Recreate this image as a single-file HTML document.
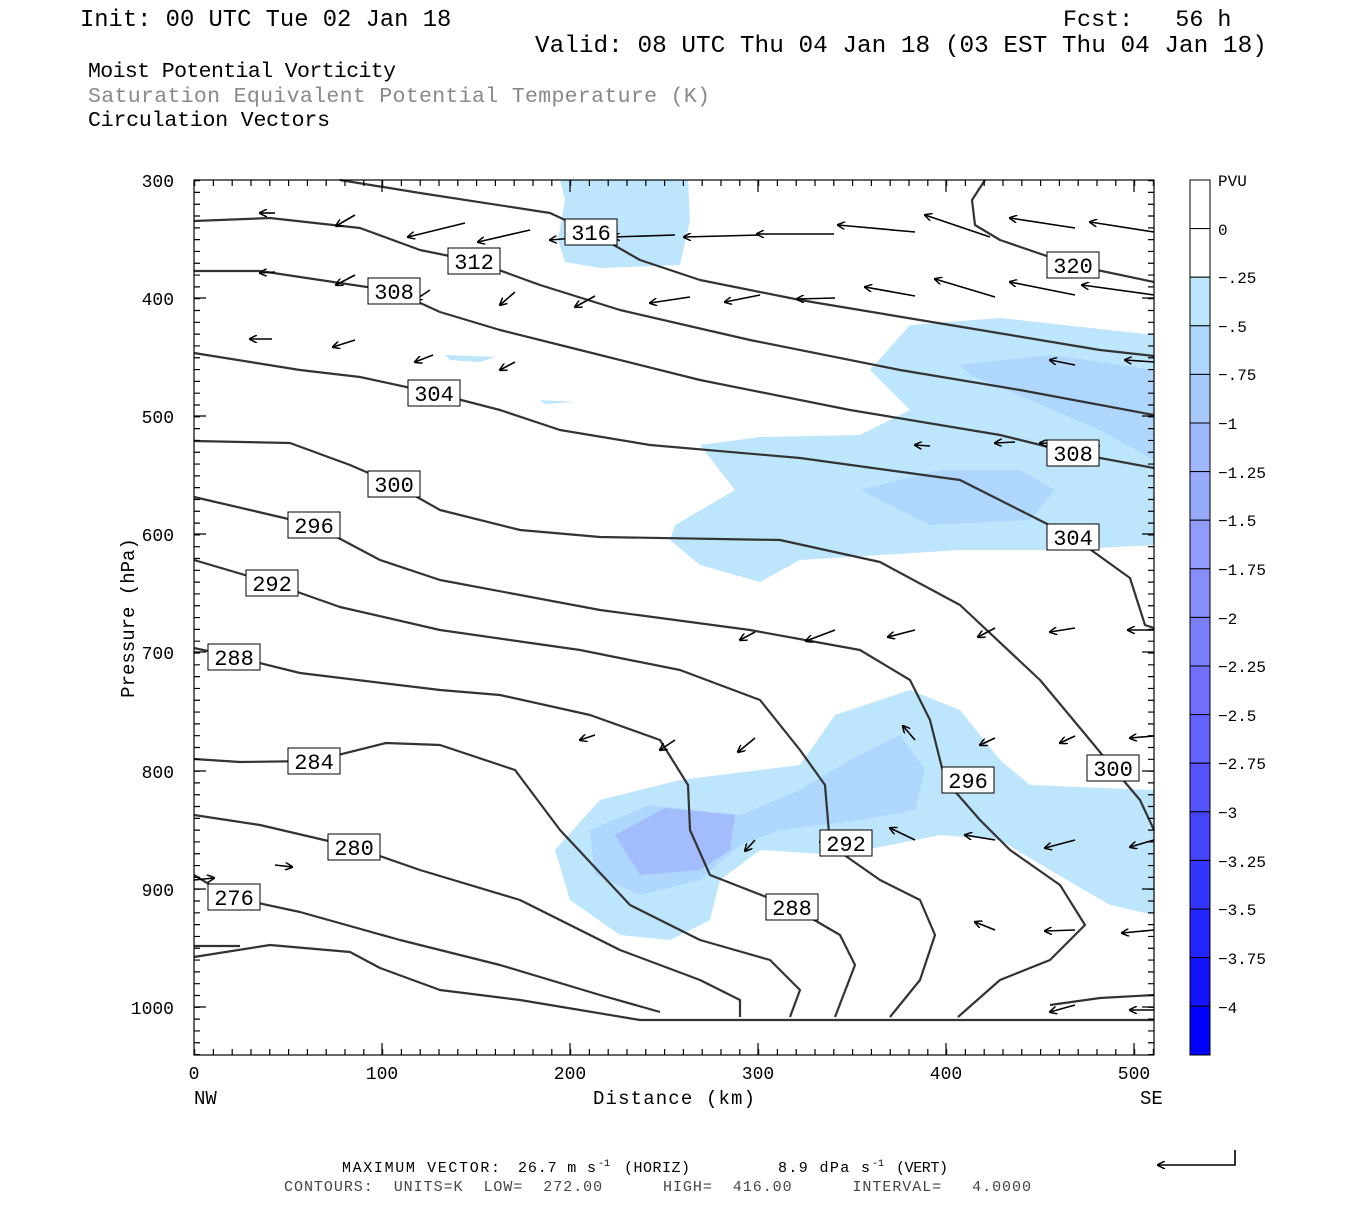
<!DOCTYPE html>
<html><head><meta charset="utf-8"><style>
body{margin:0;background:#fff;}
svg text{font-family:"Liberation Mono","DejaVu Sans Mono",monospace;fill:#000;white-space:pre;}
</style></head><body>
<svg width="1350" height="1200" viewBox="0 0 1350 1200" xmlns="http://www.w3.org/2000/svg" xml:space="preserve">
<defs>
<marker id="ah" markerWidth="8" markerHeight="8" refX="7" refY="4" orient="auto" markerUnits="userSpaceOnUse"><path d="M0,0 L8,4 L0,8" fill="none" stroke="#000" stroke-width="1.5"/></marker>
</defs>
<rect width="1350" height="1200" fill="#fff"/>
<text x="80" y="26" font-size="23.8">Init: 00 UTC Tue 02 Jan 18</text>
<text x="1063" y="26" font-size="23.4">Fcst:   56 h</text>
<text x="535" y="52" font-size="24.4">Valid: 08 UTC Thu 04 Jan 18 (03 EST Thu 04 Jan 18)</text>
<text x="88" y="77" font-size="21.5" textLength="308">Moist Potential Vorticity</text>
<text x="88" y="102" font-size="21.5" style="fill:#888" textLength="622">Saturation Equivalent Potential Temperature (K)</text>
<text x="88" y="126" font-size="21.5" textLength="242">Circulation Vectors</text>

<g stroke="none">
<path d="M560,180 L688,180 L690,220 L680,265 L600,268 L565,262 L558,240 L565,200Z" fill="#bde5fc"/>
<path d="M910,325 L1000,318 L1154,335 L1154,545 L1060,550 L960,550 L880,555 L800,560 L760,582 L700,565 L670,540 L675,525 L735,490 L700,445 L760,437 L860,435 L910,410 L870,370Z" fill="#bde5fc"/>
<path d="M960,365 L1050,355 L1154,370 L1154,460 L1100,430 L1030,400 L970,375Z" fill="#afd6fc"/>
<path d="M860,490 L940,470 L1020,470 L1055,490 L1030,520 L930,525Z" fill="#afd6fc"/>
<path d="M555,850 L600,800 L680,780 L800,765 L835,715 L910,690 L960,710 L1000,760 L1030,785 L1154,790 L1154,915 L1110,905 L1050,870 L1000,840 L940,835 L840,855 L760,850 L720,880 L710,920 L670,940 L620,935 L570,900Z" fill="#bde5fc"/>
<path d="M590,830 L650,805 L740,815 L800,790 L850,760 L900,735 L925,770 L915,810 L860,820 L780,830 L740,845 L700,880 L640,895 L595,875Z" fill="#afd6fc"/>
<path d="M615,835 L665,808 L735,815 L730,850 L700,870 L640,875Z" fill="#a3bcfc"/>
<path d="M445,355 L495,357 L480,362 L450,360Z" fill="#bde5fc"/>
<path d="M540,400 L575,402 L545,404Z" fill="#bde5fc"/>
</g>

<g fill="none" stroke="#333" stroke-width="2.2" stroke-linejoin="round">
<path d="M194,957 L270,945 L350,952 L380,968 L440,990 L520,1000 L640,1020 L1154,1020"/>
<path d="M194,875 L230,897 L300,912 L400,940 L500,965 L600,995 L660,1012"/>
<path d="M194,815 L260,825 L354,847 L420,870 L520,900 L620,950 L700,980 L740,1000 L740,1017"/>
<path d="M194,759 L240,762 L314,761 L386,743 L440,745 L515,770 L560,830 L630,905 L700,940 L770,960 L800,990 L790,1017"/>
<path d="M194,648 L235,657 L300,673 L440,690 L500,695 L590,715 L660,740 L688,785 L690,830 L710,875 L792,907 L840,935 L855,965 L835,1017"/>
<path d="M194,560 L272,583 L340,607 L440,630 L580,650 L680,670 L760,700 L800,750 L825,785 L830,845 L880,880 L920,900 L935,935 L920,980 L890,1017"/>
<path d="M194,497 L250,510 L314,525 L380,560 L440,580 L600,610 L750,630 L860,650 L910,680 L930,720 L945,780 L980,820 L1010,850 L1060,885 L1085,925 L1050,960 L1000,980 L958,1017"/>
<path d="M194,441 L290,443 L350,465 L394,484 L440,510 L520,530 L600,537 L780,540 L880,562 L960,605 L1040,680 L1090,740 L1113,768 L1140,800 L1154,830"/>
<path d="M194,353 L300,370 L360,377 L434,393 L500,410 L560,430 L650,445 L800,458 L960,480 L1073,537 L1130,578 L1145,625 L1154,628"/>
<path d="M194,271 L260,271 L320,280 L394,291 L440,312 L500,330 L580,350 L700,380 L850,410 L1000,435 L1073,453 L1154,468"/>
<path d="M194,221 L270,218 L360,228 L420,250 L474,261 L540,285 L620,310 L750,340 L900,370 L1020,390 L1154,415"/>
<path d="M340,180 L420,193 L550,213 L591,232 L640,260 L700,280 L800,300 L950,325 L1100,350 L1154,356"/>
<path d="M985,180 L972,200 L975,225 L1000,240 L1073,265 L1154,282"/>
<path d="M1050,1005 L1100,998 L1154,995"/>
<path d="M194,946 L240,946"/>
</g>

<g stroke="#000" stroke-width="1.6" marker-end="url(#ah)">
<path d="M1154,232 L1090,222"/><path d="M1075,228 L1010,218"/><path d="M990,237 L925,215"/><path d="M915,232 L838,225"/><path d="M834,234 L757,234"/><path d="M760,235 L684,237"/><path d="M675,235 L613,237"/><path d="M612,235 L550,240"/>
<path d="M1154,295 L1082,285"/><path d="M1075,295 L1010,282"/><path d="M995,297 L935,279"/><path d="M915,296 L865,287"/><path d="M835,298 L797,299"/><path d="M760,295 L725,302"/><path d="M690,297 L650,303"/><path d="M595,296 L575,307"/><path d="M515,292 L500,305"/><path d="M430,290 L415,300"/>
<path d="M530,230 L478,242"/><path d="M465,223 L408,237"/><path d="M355,215 L336,226"/><path d="M275,213 L260,213"/>
<path d="M272,339 L250,339"/><path d="M355,340 L333,347"/><path d="M275,272 L260,273"/><path d="M355,275 L336,285"/>
<path d="M1154,362 L1125,360"/><path d="M1075,365 L1050,360"/><path d="M433,355 L415,362"/><path d="M515,362 L500,370"/>
<path d="M1100,446 L1040,443"/><path d="M1015,442 L995,443"/><path d="M930,446 L915,445"/>
<path d="M1154,630 L1128,630"/><path d="M1075,628 L1050,632"/><path d="M995,628 L978,637"/><path d="M915,630 L888,637"/><path d="M835,630 L806,641"/><path d="M755,632 L740,640"/>
<path d="M1154,736 L1130,738"/><path d="M1075,736 L1060,743"/><path d="M995,738 L980,745"/><path d="M755,738 L738,752"/><path d="M675,740 L660,750"/><path d="M595,735 L580,740"/><path d="M915,740 L903,726"/>
<path d="M1154,840 L1130,847"/><path d="M1075,840 L1045,848"/><path d="M995,840 L965,835"/><path d="M915,840 L890,828"/><path d="M835,840 L820,842"/><path d="M755,840 L745,851"/>
<path d="M1154,930 L1122,933"/><path d="M1075,930 L1045,931"/><path d="M995,930 L975,922"/>
<path d="M1154,1010 L1130,1010"/><path d="M1075,1005 L1050,1012"/>
<path d="M275,865 L292,867"/><path d="M194,880 L214,878"/>
</g>

<g font-size="22" text-anchor="middle">
<g fill="#fff" stroke="#000" stroke-width="1">
<rect x="208" y="884" width="52" height="26"/><rect x="328" y="834" width="52" height="26"/><rect x="288" y="748" width="52" height="26"/>
<rect x="766" y="894" width="52" height="26"/><rect x="246" y="570" width="52" height="26"/><rect x="820" y="830" width="52" height="26"/>
<rect x="288" y="512" width="52" height="26"/><rect x="942" y="767" width="52" height="26"/><rect x="368" y="471" width="52" height="26"/>
<rect x="1087" y="755" width="52" height="26"/><rect x="408" y="380" width="52" height="26"/><rect x="1047" y="524" width="52" height="26"/>
<rect x="368" y="278" width="52" height="26"/><rect x="1047" y="440" width="52" height="26"/><rect x="448" y="248" width="52" height="26"/>
<rect x="565" y="219" width="52" height="26"/><rect x="1047" y="252" width="52" height="26"/><rect x="208" y="644" width="52" height="26"/>
</g>
<text x="234" y="905">276</text><text x="354" y="855">280</text><text x="314" y="769">284</text>
<text x="792" y="915">288</text><text x="272" y="591">292</text><text x="846" y="851">292</text>
<text x="314" y="533">296</text><text x="968" y="788">296</text><text x="394" y="492">300</text>
<text x="1113" y="776">300</text><text x="434" y="401">304</text><text x="1073" y="545">304</text>
<text x="394" y="299">308</text><text x="1073" y="461">308</text><text x="474" y="269">312</text>
<text x="591" y="240">316</text><text x="1073" y="273">320</text><text x="234" y="665">288</text>
</g>

<rect x="194" y="180" width="960" height="875" fill="none" stroke="#000" stroke-width="1.2"/>
<g stroke="#000" stroke-width="1.2" fill="none">
<path d="M197,180 V1055" stroke-width="6" stroke-dasharray="1.2 10.61"/>
<path d="M1151,180 V1055" stroke-width="6" stroke-dasharray="1.2 10.61"/>
<path d="M194,1052 H1154" stroke-width="6" stroke-dasharray="1.2 17.6"/>
<path d="M194,183 H1154" stroke-width="6" stroke-dasharray="1.2 17.6"/>
<path d="M194,298 h12 M194,416 h12 M194,534 h12 M194,652 h12 M194,771 h12 M194,889 h12 M194,1007 h12 M1154,298 h-12 M1154,416 h-12 M1154,534 h-12 M1154,652 h-12 M1154,771 h-12 M1154,889 h-12 M1154,1007 h-12"/>
<path d="M382,1055 v-12 M570,1055 v-12 M758,1055 v-12 M946,1055 v-12 M1134,1055 v-12 M382,180 v12 M570,180 v12 M758,180 v12 M946,180 v12 M1134,180 v12"/>
</g>
<g font-size="18" text-anchor="end">
<text x="174" y="187">300</text><text x="174" y="305">400</text><text x="174" y="423">500</text><text x="174" y="541">600</text><text x="174" y="659">700</text><text x="174" y="778">800</text><text x="174" y="896">900</text><text x="174" y="1014">1000</text>
</g>
<g font-size="18" text-anchor="middle">
<text x="194" y="1079">0</text><text x="382" y="1079">100</text><text x="570" y="1079">200</text><text x="758" y="1079">300</text><text x="946" y="1079">400</text><text x="1134" y="1079">500</text>
</g>
<text x="194" y="1104" font-size="19">NW</text>
<text x="1140" y="1104" font-size="19">SE</text>
<text x="674" y="1104" font-size="19" text-anchor="middle" textLength="162">Distance (km)</text>
<text transform="translate(134,618) rotate(-90)" font-size="19" text-anchor="middle">Pressure (hPa)</text>

<g stroke="#000" stroke-width="1">
<rect x="1190" y="180" width="20" height="48.6" fill="#fff"/>
<rect x="1190" y="228.6" width="20" height="48.6" fill="#fff"/>
<rect x="1190" y="277.2" width="20" height="48.6" fill="#bde5fc"/>
<rect x="1190" y="325.8" width="20" height="48.6" fill="#afd6fc"/>
<rect x="1190" y="374.4" width="20" height="48.6" fill="#a8c8fc"/>
<rect x="1190" y="423" width="20" height="48.6" fill="#a0b8fc"/>
<rect x="1190" y="471.6" width="20" height="48.6" fill="#98aafc"/>
<rect x="1190" y="520.2" width="20" height="48.6" fill="#909cfc"/>
<rect x="1190" y="568.8" width="20" height="48.6" fill="#878efc"/>
<rect x="1190" y="617.4" width="20" height="48.6" fill="#7c7ffc"/>
<rect x="1190" y="666" width="20" height="48.6" fill="#7070fc"/>
<rect x="1190" y="714.6" width="20" height="48.6" fill="#6262fc"/>
<rect x="1190" y="763.2" width="20" height="48.6" fill="#5454fc"/>
<rect x="1190" y="811.8" width="20" height="48.6" fill="#4444fc"/>
<rect x="1190" y="860.4" width="20" height="48.6" fill="#3434fc"/>
<rect x="1190" y="909" width="20" height="48.6" fill="#2424fc"/>
<rect x="1190" y="957.6" width="20" height="48.6" fill="#1414fc"/>
<rect x="1190" y="1006.2" width="20" height="48.8" fill="#0000ff"/>
</g>
<g font-size="16">
<text x="1218" y="186">PVU</text><text x="1218" y="235">0</text><text x="1218" y="283">−.25</text><text x="1218" y="332">−.5</text><text x="1218" y="380">−.75</text><text x="1218" y="429">−1</text><text x="1218" y="478">−1.25</text><text x="1218" y="526">−1.5</text><text x="1218" y="575">−1.75</text><text x="1218" y="624">−2</text><text x="1218" y="672">−2.25</text><text x="1218" y="721">−2.5</text><text x="1218" y="769">−2.75</text><text x="1218" y="818">−3</text><text x="1218" y="867">−3.25</text><text x="1218" y="915">−3.5</text><text x="1218" y="964">−3.75</text><text x="1218" y="1013">−4</text>
</g>

<g font-size="15">
<text x="342" y="1172" textLength="158">MAXIMUM VECTOR:</text>
<text x="518" y="1172" textLength="78">26.7 m s</text>
<text x="598" y="1166" font-size="10">-1</text>
<text x="624" y="1172" textLength="66">(HORIZ)</text>
<text x="778" y="1172" textLength="92">8.9 dPa s</text>
<text x="872" y="1166" font-size="10">-1</text>
<text x="896" y="1172" textLength="52">(VERT)</text>
<text x="284" y="1191" style="fill:#444" textLength="747">CONTOURS:  UNITS=K  LOW=  272.00      HIGH=  416.00      INTERVAL=   4.0000</text>
</g>
<path d="M1235,1150 V1165 H1158" fill="none" stroke="#000" stroke-width="1.6" marker-end="url(#ah)"/>
</svg>
</body></html>
